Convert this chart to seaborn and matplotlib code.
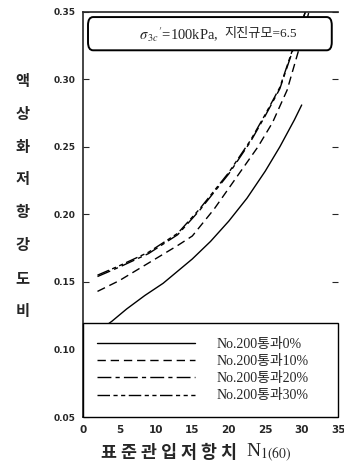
import numpy as np
import pandas as pd
import matplotlib
matplotlib.use("Agg")
import matplotlib.pyplot as plt
from matplotlib.patches import FancyBboxPatch
import seaborn as sns

# values
n_0 = [2, 4, 6, 8.5, 11, 13, 15, 17.5, 20, 22.5, 25, 27, 29, 30]
crr_0 = [0.113, 0.121, 0.130, 0.140, 0.149, 0.158, 0.167, 0.180, 0.195, 0.212, 0.232, 0.250, 0.270, 0.281]

n_10 = [2, 5, 9, 13, 15, 18, 21, 24, 26, 28, 29.5, 31]
crr_10 = [0.143, 0.151, 0.164, 0.177, 0.184, 0.204, 0.227, 0.250, 0.268, 0.292, 0.320, 0.350]

n_20 = [2, 5, 9, 13, 16, 20, 23, 25, 27, 29, 30.5]
crr_20 = [0.154, 0.161, 0.171, 0.185, 0.203, 0.230, 0.254, 0.273, 0.293, 0.325, 0.350]

n_30 = [2, 5, 9, 13, 16, 20, 23, 25, 27, 29, 30.5]
crr_30 = [0.155, 0.162, 0.172, 0.186, 0.204, 0.231, 0.255, 0.274, 0.294, 0.326, 0.350]

labels = ["No.200통과0%", "No.200통과10%", "No.200통과20%", "No.200통과30%"]
x_ticks = [0, 5, 10, 15, 20, 25, 30, 35]
y_ticks = [0.05, 0.10, 0.15, 0.20, 0.25, 0.30, 0.35]

df = pd.concat([
    pd.DataFrame({"N": n_0, "CRR": crr_0, "fines": labels[0]}),
    pd.DataFrame({"N": n_10, "CRR": crr_10, "fines": labels[1]}),
    pd.DataFrame({"N": n_20, "CRR": crr_20, "fines": labels[2]}),
    pd.DataFrame({"N": n_30, "CRR": crr_30, "fines": labels[3]}),
])

sns.set_style("ticks")
plt.rcParams['font.family'] = ['Liberation Serif', 'Noto Sans CJK KR']
plt.rcParams['mathtext.fontset'] = 'stix'

fig = plt.figure(figsize=(3.44, 4.72), dpi=100)
ax = fig.add_axes([0.241, 0.1165, 0.742, 0.8585])

dash_map = {labels[0]: "", labels[1]: (6, 3.5),
            labels[2]: (10, 3, 3, 3), labels[3]: (9, 2.5, 3, 2.5, 3, 2.5)}
sns.lineplot(data=df, x="N", y="CRR", hue="fines", style="fines",
             palette=["black"] * 4, dashes=dash_map, sort=False,
             estimator=None, linewidth=1.0, ax=ax)

ax.set_xlim(0, 35)
ax.set_ylim(0.05, 0.35)
ax.set_xticks(x_ticks)
ax.set_yticks(y_ticks)
ax.set_xticklabels([str(v) for v in x_ticks], fontweight="bold",
                   family=["Liberation Sans Narrow", "DejaVu Sans"], fontsize=7.5)
ax.set_yticklabels([f"{v:.2f}" for v in y_ticks], fontweight="bold",
                   family=["Liberation Sans Narrow", "DejaVu Sans"], fontsize=6.5)
ax.tick_params(axis="y", direction="in", length=4, right=True, pad=5)
ax.tick_params(axis="x", direction="in", length=0, pad=6)
ax.spines['right'].set_visible(False)
for s in ['left', 'top', 'bottom']:
    ax.spines[s].set_linewidth(1.2)
ax.set_xlabel("")
ax.set_ylabel("")

handles, labs = ax.get_legend_handles_labels()
leg = ax.legend(handles, labs, loc="lower left", bbox_to_anchor=(0, 0, 1.0, 0.222),
                mode="expand", borderaxespad=0, fancybox=False, framealpha=1,
                edgecolor="black", fontsize=10, handlelength=7.0,
                handletextpad=1.6, labelspacing=0.3, borderpad=1.05)
leg.get_frame().set_linewidth(1.0)

box = FancyBboxPatch((0.02, 0.905), 0.955, 0.082,
                     boxstyle="round,pad=0,rounding_size=0.02",
                     transform=ax.transAxes, facecolor="white",
                     edgecolor="black", linewidth=1.4, zorder=5)
ax.add_patch(box)
ax.text(0.53, 0.944, r"$\sigma_{\,3c}{}'$=100kPa,", transform=ax.transAxes,
        ha="right", va="center", fontsize=10.5, zorder=6)
ax.text(0.555, 0.946, "지진규모=6.5", transform=ax.transAxes,
        ha="left", va="center", fontsize=9.5, zorder=6)

fig.text(0.065, 0.585, "\n".join("액상화저항강도비"), ha="center",
         va="center", fontsize=11, fontweight="bold",
         family=["Noto Sans CJK KR"], linespacing=2.3)
fig.text(0.69, 0.041, "표 준 관 입 저 항 치", ha="right", va="center",
         fontsize=12.5, fontweight="bold", family=["Noto Sans CJK KR"])
fig.text(0.715, 0.041, r"N$_{1(60)}$", ha="left", va="center",
         fontsize=14, family=["Liberation Serif"])

fig.savefig("out.png", dpi=100)
